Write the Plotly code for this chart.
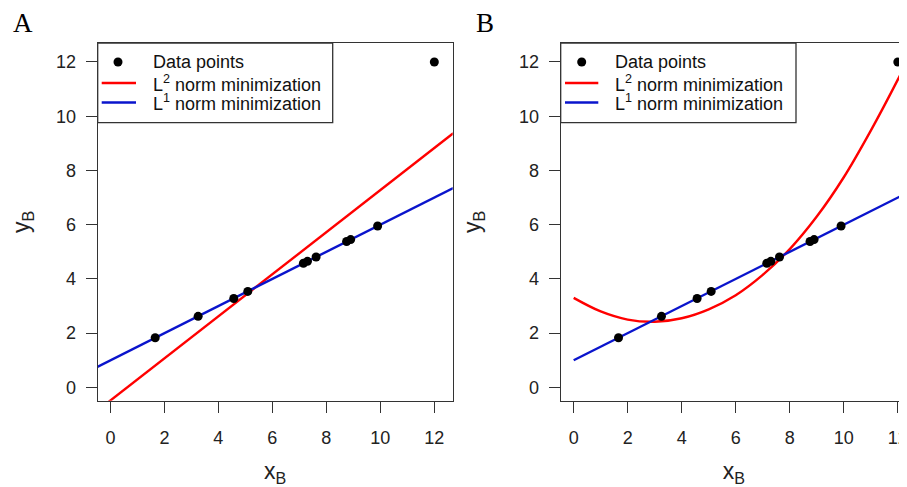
import plotly.graph_objects as go

# ---- data ----
x_data = [1.66, 3.25, 4.57, 5.09, 7.15, 7.30, 7.62, 8.75, 8.90, 9.90, 12.0]
y_data = [1.83, 2.62, 3.28, 3.54, 4.58, 4.65, 4.81, 5.38, 5.45, 5.95, 12.0]

# straight fit lines of panel A, sampled at the plot edges
line_x = [-0.5, 12.7]
l1_line_y = [0.75, 7.35]
l2_line_a_y = [-0.87, 9.37]

# L1 line of panel B starts at x = 0
line_b_x = [0, 12.7]
l1_line_b_y = [1.0, 7.35]

# L2 curve of panel B, read point by point
curve_x = [0, 1, 2, 3, 4, 5, 6, 7, 8, 9, 10, 11, 12, 12.7]
curve_y = [3.30, 2.80, 2.50, 2.42, 2.55, 2.88, 3.40, 4.15, 5.10, 6.30, 7.75, 9.47, 11.35, 12.75]

x_ticks = [0, 2, 4, 6, 8, 10, 12]
y_ticks = [0, 2, 4, 6, 8, 10, 12]

legend_names = ["Data points", "L<sup>2</sup> norm minimization", "L<sup>1</sup> norm minimization"]

RED = "#FF0000"
BLUE = "#0A14CC"
FONT = "Liberation Sans, Arial, sans-serif"
AXC = "#333333"

# the page body has an 8px margin: the figure is sized to fit the 907x487 window
OFF = 8
W, H = 907 - OFF, 487 - OFF


def px(X):  # window pixel -> paper x
    return (X - OFF) / W


def py(Y):  # window pixel -> paper y
    return 1 - (Y - OFF) / H


fig = go.Figure()

# panel A
fig.add_trace(go.Scatter(x=line_x, y=l2_line_a_y, mode="lines", name=legend_names[1],
                         line=dict(color=RED, width=2.4), xaxis="x", yaxis="y"))
fig.add_trace(go.Scatter(x=line_x, y=l1_line_y, mode="lines", name=legend_names[2],
                         line=dict(color=BLUE, width=2.4), xaxis="x", yaxis="y"))
fig.add_trace(go.Scatter(x=x_data, y=y_data, mode="markers", name=legend_names[0],
                         marker=dict(color="black", size=9), xaxis="x", yaxis="y", cliponaxis=False))
# panel B
fig.add_trace(go.Scatter(x=curve_x, y=curve_y, mode="lines", name=legend_names[1],
                         line=dict(color=RED, width=2.4, shape="spline"), xaxis="x2", yaxis="y2"))
fig.add_trace(go.Scatter(x=line_b_x, y=l1_line_b_y, mode="lines", name=legend_names[2],
                         line=dict(color=BLUE, width=2.4), xaxis="x2", yaxis="y2"))
fig.add_trace(go.Scatter(x=x_data, y=y_data, mode="markers", name=legend_names[0],
                         marker=dict(color="black", size=9), xaxis="x2", yaxis="y2", cliponaxis=False))

ax_common = dict(showgrid=False, zeroline=False, showline=True, linecolor=AXC, linewidth=1.3,
                 ticks="outside", ticklen=11, tickwidth=1.2, tickcolor=AXC, automargin=False,
                 ticklabeloverflow="allow",
                 tickfont=dict(family=FONT, size=18, color="#222222"))
title_font = dict(family=FONT, size=23, color="#222222")

# ---- hand-drawn legends (R style) ----
shapes = []
annotations = []
legend_specs = [
    # box left, box right, dot x, line x0, line x1, text x
    (97.7, 332.7, 118.0, 101.7, 136.0, 150.5),
    (560.7, 796.0, 581.7, 565.0, 598.3, 613.0),
]
for (bl, br, dx, lx0, lx1, tx) in legend_specs:
    shapes.append(dict(type="rect", xref="paper", yref="paper", x0=px(bl), x1=px(br), y0=py(122.7), y1=py(43),
                       line=dict(color=AXC, width=1.3), fillcolor="white", layer="above"))
    r = 4.5
    shapes.append(dict(type="circle", xref="paper", yref="paper", x0=px(dx - r), x1=px(dx + r),
                       y0=py(62 + r), y1=py(62 - r), line=dict(width=0), fillcolor="black", layer="above"))
    shapes.append(dict(type="line", xref="paper", yref="paper", x0=px(lx0), x1=px(lx1), y0=py(83), y1=py(83),
                       line=dict(color=RED, width=2.4), layer="above"))
    shapes.append(dict(type="line", xref="paper", yref="paper", x0=px(lx0), x1=px(lx1), y0=py(102.5), y1=py(102.5),
                       line=dict(color=BLUE, width=2.4), layer="above"))
    for name, ty in zip(legend_names, [62, 83.5, 103]):
        annotations.append(dict(text=name, x=px(tx), y=py(ty), xref="paper", yref="paper",
                                xanchor="left", yanchor="middle", showarrow=False,
                                font=dict(family=FONT, size=18, color="#111111")))

for letter, lx in [("A", 11), ("B", 474)]:
    annotations.append(dict(text=letter, x=px(lx), y=py(6), xref="paper", yref="paper",
                            xanchor="left", yanchor="top", showarrow=False,
                            font=dict(family="Liberation Serif, Times New Roman, serif", size=27, color="black")))

fig.update_layout(
    width=W, height=H,
    margin=dict(l=0, r=0, t=0, b=0, autoexpand=False),
    paper_bgcolor="white", plot_bgcolor="white",
    showlegend=False,
    xaxis=dict(domain=[px(97.7), px(452.7)], range=[-0.47, 12.68], tickvals=x_ticks, mirror=True,
               title=dict(text="x<sub>B</sub>", font=title_font, standoff=25),
               ticklabelstandoff=10, anchor="y", **ax_common),
    yaxis=dict(domain=[py(400.7), py(43)], range=[-0.49, 12.7], tickvals=y_ticks, mirror=True,
               title=dict(text="y<sub>B</sub>", font=title_font, standoff=31),
               ticklabelstandoff=6, anchor="x", **ax_common),
    xaxis2=dict(domain=[px(560.7), 1.0], range=[-0.48, 12.34], tickvals=x_ticks, mirror=True,
                title=dict(text="x<sub>B</sub>", font=title_font, standoff=25),
                ticklabelstandoff=10, anchor="y2", **ax_common),
    yaxis2=dict(domain=[py(400.7), py(43)], range=[-0.49, 12.7], tickvals=y_ticks, mirror=False,
                title=dict(text="y<sub>B</sub>", font=title_font, standoff=31),
                ticklabelstandoff=6, anchor="x2", **ax_common),
    shapes=shapes,
    annotations=annotations,
)

fig.write_html("out.html")
